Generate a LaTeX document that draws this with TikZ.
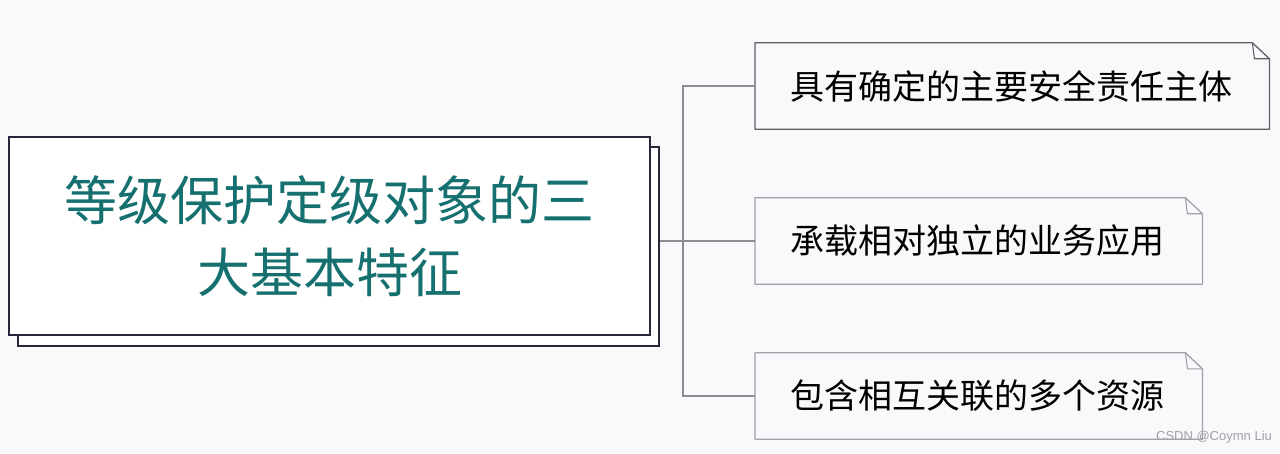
\documentclass[tikz,border=0pt]{standalone}
\usepackage{fontspec}
\newfontfamily\cjk{Noto Sans CJK SC}
\newfontfamily\marcafont{Liberation Sans}
\usetikzlibrary{
    positioning
}
\definecolor{fondo}{RGB}{248,249,251}
\definecolor{verdeazul}{RGB}{22,112,112}
\definecolor{bordeoscuro}{RGB}{40,38,58}
\definecolor{bordemedio}{RGB}{95,95,100}
\definecolor{bordeclaro}{RGB}{160,160,165}
\definecolor{lineagris}{RGB}{140,140,145}
\tikzset{
    principal/.style={
        draw=bordeoscuro,
        line width=2pt,
        fill=white,
        minimum width=641pt,
        minimum height=198pt,
        inner sep=0pt,
        align=center,
        text=verdeazul,
        font=\cjk\fontsize{53pt}{72pt}\selectfont
    },
    sombra/.style={
        draw=bordeoscuro,
        line width=2pt,
        fill=white,
        minimum width=641pt,
        minimum height=199pt
    },
    caja/.style={
        anchor=west,
        minimum height=86pt,
        inner xsep=35pt,
        inner ysep=0pt,
        align=left,
        text=black,
        font=\cjk\fontsize{34pt}{40pt}\selectfont
    },
    conector/.style={
        draw=lineagris,
        line width=1.2pt
    }
}
% contorno con la esquina doblada
\newcommand{\doblez}[2]{%
    \draw[draw=#2, line width=1.3pt, line join=round]
        (#1.south west) -- (#1.north west) -- ([xshift=-17pt]#1.north east)
        -- ([yshift=-16pt]#1.north east) -- (#1.south east) -- cycle;
    \draw[draw=#2, line width=1.1pt]
        ([xshift=-17pt]#1.north east) -- ([xshift=-15pt,yshift=-16pt]#1.north east)
        -- ([yshift=-16pt]#1.north east);
}

\begin{document}
\begin{tikzpicture}[
    x=1pt,
    y=-1pt
]

    \fill[fondo] (0,0) rectangle (1280,454);
    \useasboundingbox (0,0) rectangle (1280,454);

    % Caja principal
    \node[sombra]    (sombra) at (338.5,246.5) {};
    \node[principal] (tema)   at (329.5,236)   {等级保护定级对象的三\\大基本特征};

    % Caracteristicas
    \node[caja, text width=444pt] (c1) at (755,86)  {具有确定的主要安全责任主体};
    \node[caja, text width=377pt] (c2) at (755,241) {承载相对独立的业务应用};
    \node[caja, text width=377pt] (c3) at (755,396) {包含相互关联的多个资源};

    \doblez{c1}{bordemedio}
    \doblez{c2}{bordeclaro}
    \doblez{c3}{bordeclaro}

    % Conectores
    \coordinate (rama) at (683,241);
    \draw[conector] (sombra.east |- c2.west) -- (c2.west);
    \draw[conector] (c1.west) -| (rama) |- (c3.west);

    % Marca de agua
    \node[text=bordeclaro, font=\marcafont\fontsize{13pt}{15pt}\selectfont]
        (marca) at (1214,437) {CSDN @Coymn Liu};

\end{tikzpicture}
\end{document}
